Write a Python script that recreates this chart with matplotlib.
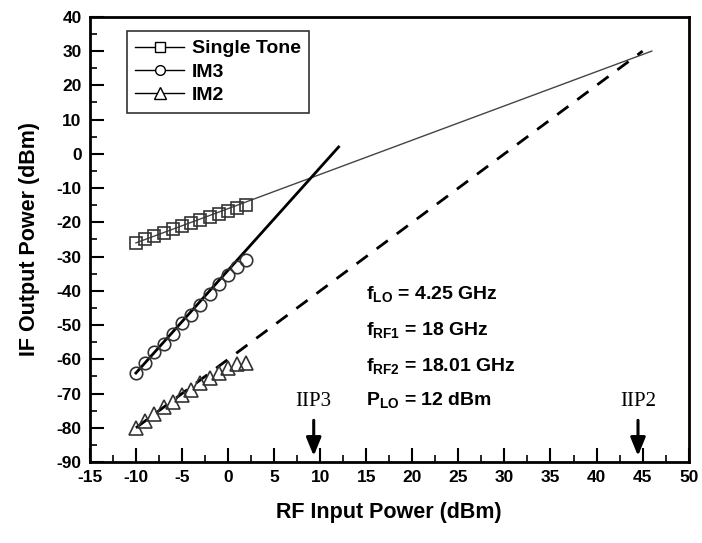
from matplotlib import pyplot as plt
from matplotlib.ticker import MultipleLocator
import numpy as np

plt.rcParams['font.family'] = ['Liberation Sans', 'DejaVu Sans']
plt.rcParams['font.weight'] = 'bold'
plt.rcParams['axes.unicode_minus'] = False
plt.rcParams['mathtext.fontset'] = 'custom'
plt.rcParams['mathtext.bf'] = 'Liberation Sans:bold'
plt.rcParams['mathtext.rm'] = 'Liberation Sans:bold'
plt.rcParams['mathtext.default'] = 'bf'

# measured points
rf_in = [-10, -9, -8, -7, -6, -5, -4, -3, -2, -1, 0, 1, 2]
single_tone = [-26, -24.8, -23.9, -23, -22, -21, -20.2, -19.3, -18.4, -17.5, -16.6, -15.8, -15.0]
im3 = [-64, -61, -58, -55.5, -52.5, -49.5, -47, -44, -41, -38, -35.5, -33, -31]
im2 = [-80, -78, -76, -74, -72.5, -70.5, -69, -67, -65.5, -64, -62.5, -61.5, -61]

# extrapolated fit lines (end points)
fit_single_x = [-10, 46]
fit_single_y = [-26, 30]
fit_im3_x = [-10, 12]
fit_im3_y = [-64, 2]
fit_im2_x = [-10, 45]
fit_im2_y = [-80, 30]

iip3 = 9.3
iip2 = 44.5

fig = plt.figure(figsize=(7.02, 5.43), dpi=100)
ax = fig.add_axes([0.128, 0.149, 0.853, 0.82])

ax.plot(fit_single_x, fit_single_y, color='#444444', lw=1.0)
ax.plot(fit_im3_x, fit_im3_y, color='black', lw=2.0)
ax.plot(fit_im2_x, fit_im2_y, color='black', lw=2.0, ls=(0, (5, 4)))

ax.plot(rf_in, single_tone, ls='none', marker='s', ms=9, mfc='none', mec='#333333',
        mew=1.2, label='Single Tone')
ax.plot(rf_in, im3, ls='none', marker='o', ms=9, mfc='none', mec='#333333',
        mew=1.2, label='IM3')
ax.plot(rf_in, im2, ls='none', marker='^', ms=10, mfc='none', mec='#333333',
        mew=1.2, label='IM2')

# legend proxies with line-marker-line look
h1, = ax.plot([], [], color='black', lw=1, marker='s', ms=7, mfc='white', mec='black')
h2, = ax.plot([], [], color='black', lw=1, marker='o', ms=7, mfc='white', mec='black')
h3, = ax.plot([], [], color='black', lw=1, marker='^', ms=8, mfc='white', mec='black')
leg = ax.legend([h1, h2, h3], ['Single Tone', 'IM3', 'IM2'], loc='upper left',
                bbox_to_anchor=(0.045, 0.99), fancybox=False, edgecolor='black',
                prop={'weight': 'bold', 'size': 14}, handlelength=2.5,
                labelspacing=0.3, borderpad=0.45, handletextpad=0.4)
leg.get_frame().set_linewidth(1.2)

# arrows
for xv, lab in [(iip3, 'IIP3'), (iip2, 'IIP2')]:
    ax.annotate('', xy=(xv, -89), xytext=(xv, -77),
                arrowprops=dict(arrowstyle='-|>,head_width=0.45,head_length=1.1',
                                color='black', lw=2.2))
    ax.text(xv, -75, lab, ha='center', va='bottom', fontsize=15, fontweight='normal',
            family=['Liberation Serif', 'DejaVu Serif'])

txt = dict(fontsize=14, fontweight='bold', ha='left', va='center')
ax.text(15, -41, r'f$_{\mathbf{LO}}$ = 4.25 GHz', **txt)
ax.text(15, -51.5, r'f$_{\mathbf{RF1}}$ = 18 GHz', **txt)
ax.text(15, -62, r'f$_{\mathbf{RF2}}$ = 18.01 GHz', **txt)
ax.text(15, -72, r'P$_{\mathbf{LO}}$ = 12 dBm', **txt)

ax.set_xlim(-15, 50)
ax.set_ylim(-90, 40)
ax.xaxis.set_major_locator(MultipleLocator(5))
ax.xaxis.set_minor_locator(MultipleLocator(2.5))
ax.yaxis.set_major_locator(MultipleLocator(10))
ax.yaxis.set_minor_locator(MultipleLocator(5))
ax.tick_params(which='major', direction='in', length=10, width=1.5, top=False, right=False,
               labelsize=12.5, pad=6)
ax.tick_params(which='minor', direction='in', length=5, width=1.2, top=False, right=False)
for sp in ax.spines.values():
    sp.set_linewidth(2)

ax.set_xlabel('RF Input Power (dBm)', fontsize=15.5, fontweight='bold', labelpad=12)
ax.set_ylabel('IF Output Power (dBm)', fontsize=15.5, fontweight='bold', labelpad=12)

fig.savefig('out.png', dpi=100)
